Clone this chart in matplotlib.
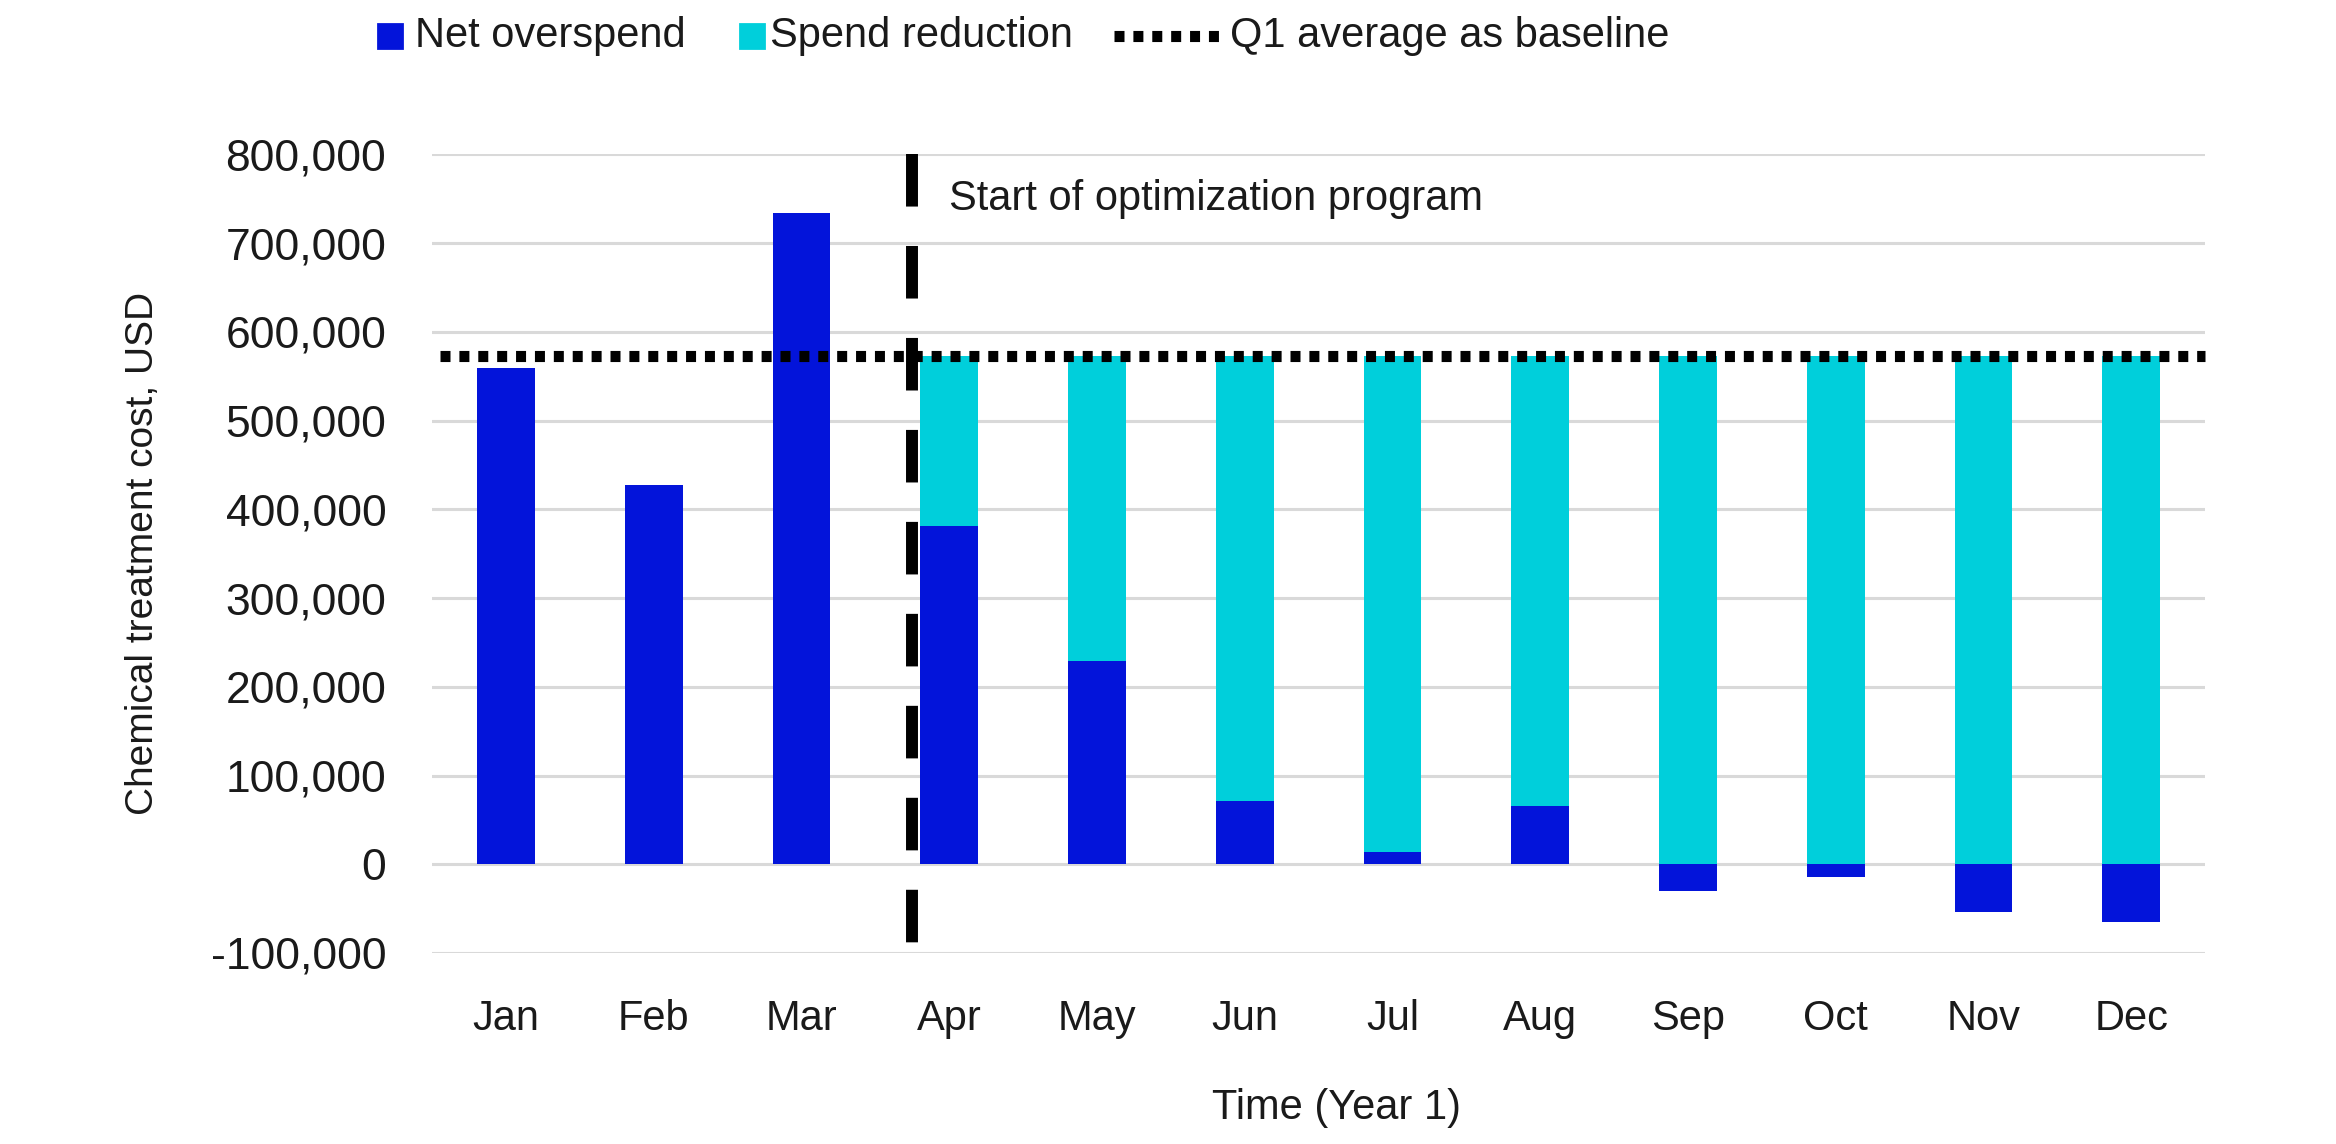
import matplotlib.pyplot as plt
from matplotlib.lines import Line2D
from matplotlib.patches import Rectangle
from matplotlib.ticker import FuncFormatter

plt.rcParams['font.family'] = ['Liberation Sans', 'DejaVu Sans']

# data
months = ['Jan', 'Feb', 'Mar', 'Apr', 'May', 'Jun', 'Jul', 'Aug', 'Sep', 'Oct', 'Nov', 'Dec']
net_overspend = [559000, 427000, 734000, 381000, 229000, 71000, 14000, 66000,
                 -30000, -14000, -54000, -65000]
spend_reduction = [0, 0, 0, 192000, 344000, 502000, 559000, 507000,
                   573000, 573000, 573000, 573000]
q1_baseline = sum(net_overspend[:3]) / 3
program_start = 2.75  # between Mar and Apr

blue = '#0314DA'
cyan = '#00CFDB'
grid_col = '#D9D9D9'
text_col = '#1a1a1a'
fs = 15

fig = plt.figure(figsize=(11.68, 5.72), dpi=200)
ax = fig.add_axes([0.185, 0.167, 0.759, 0.698])

x = list(range(len(months)))
ax.bar(x, net_overspend, width=0.39, color=blue, zorder=3)
bottoms = [max(v, 0) for v in net_overspend]
ax.bar(x, spend_reduction, width=0.39, bottom=bottoms, color=cyan, zorder=3)

# Q1 average baseline (dotted)
ax.plot([-0.45, 11.5], [q1_baseline, q1_baseline], color='black', lw=4,
        dashes=(0.9, 0.8), dash_capstyle='butt', zorder=5, clip_on=False)

# start of program (dashed)
ax.plot([program_start, program_start], [800000, -96000], color='black', lw=4.3,
        dashes=(4.4, 3.3), dash_capstyle='butt', zorder=4, clip_on=False)
ax.text(3.0, 750000, 'Start of optimization program', fontsize=fs,
        color=text_col, ha='left', va='center')

ax.set_xlim(-0.5, 11.5)
ax.set_ylim(-100000, 800000)
ax.set_yticks(range(-100000, 800001, 100000))
ax.yaxis.set_major_formatter(FuncFormatter(lambda v, p: f'{int(v):,}'))
ax.set_xticks(x)
ax.set_xticklabels(months)
ax.tick_params(axis='both', length=0, labelsize=fs, colors=text_col)
ax.tick_params(axis='y', pad=16.5, labelsize=16)
ax.tick_params(axis='x', pad=16.5)
ax.grid(axis='y', color=grid_col, lw=1.1, zorder=0)
for s in ax.spines.values():
    s.set_visible(False)

ax.set_ylabel('Chemical treatment cost, USD', fontsize=14, color=text_col)
ax.yaxis.set_label_coords(-0.153, 0.5)
ax.set_xlabel('Time (Year 1)', fontsize=fs, color=text_col)
ax.xaxis.set_label_coords(0.51, -0.169)

# legend drawn in figure pixels
W, H = 2336, 1144
ly = 1 - 36 / H
sq = 24
fig.add_artist(Rectangle((378 / W, ly - sq / 2 / H), sq / W, sq / H,
                         transform=fig.transFigure, color=blue))
fig.text(415 / W, ly, 'Net overspend', fontsize=fs, color=text_col, va='center')
fig.add_artist(Rectangle((740 / W, ly - sq / 2 / H), sq / W, sq / H,
                         transform=fig.transFigure, color=cyan))
fig.text(770 / W, ly, 'Spend reduction', fontsize=fs, color=text_col, va='center')
fig.add_artist(Line2D([1114 / W, 1219 / W], [ly, ly], transform=fig.transFigure,
                      color='black', lw=4, dashes=(0.9, 0.8), dash_capstyle='butt'))
fig.text(1230 / W, ly, 'Q1 average as baseline', fontsize=fs, color=text_col, va='center')

fig.savefig('out.png', dpi=200, facecolor='white')
